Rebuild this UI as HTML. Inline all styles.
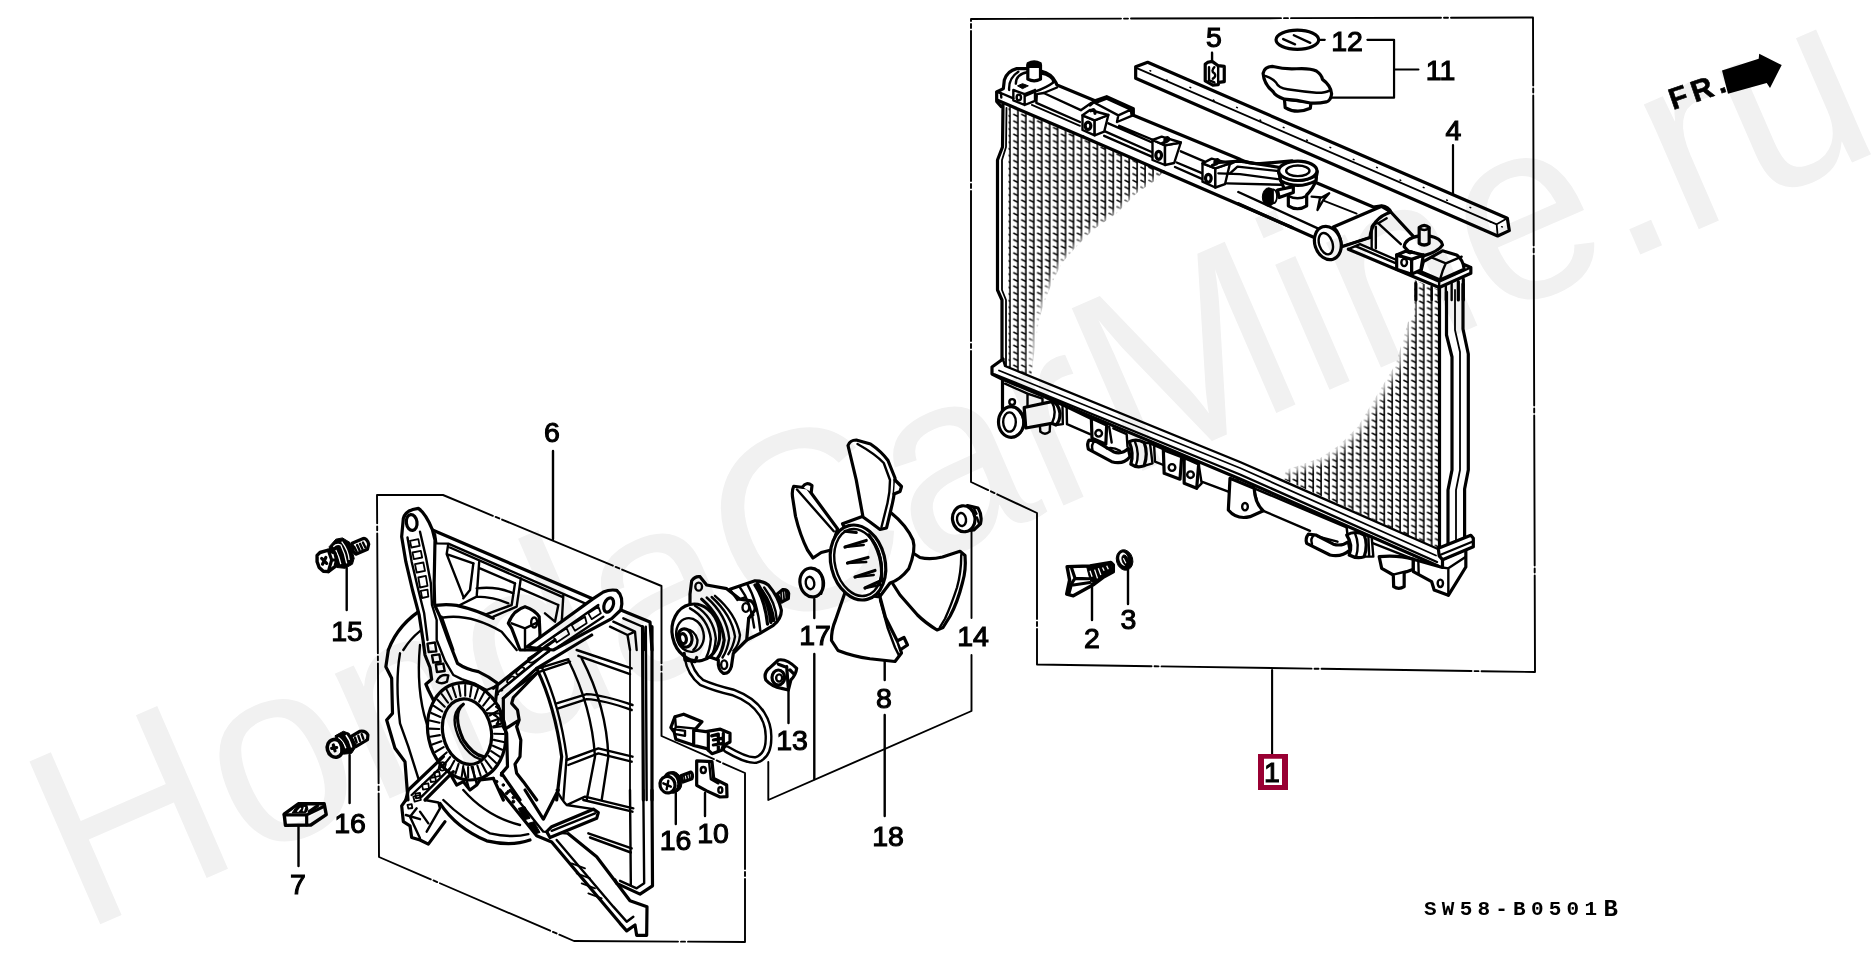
<!DOCTYPE html>
<html><head><meta charset="utf-8"><title>Radiator diagram</title>
<style>
html,body{margin:0;padding:0;background:#fff;overflow:hidden}
svg{display:block}
.l{fill:none;stroke:#000;stroke-width:2.4;stroke-linecap:round;stroke-linejoin:round}
.t{fill:none;stroke:#000;stroke-width:1.8;stroke-linecap:round;stroke-linejoin:round}
.k{fill:none;stroke:#000;stroke-width:3.2;stroke-linecap:round;stroke-linejoin:round}
.w{fill:#fff;stroke:#000;stroke-width:2.4;stroke-linecap:round;stroke-linejoin:round}
.wk{fill:#fff;stroke:#000;stroke-width:3.2;stroke-linecap:round;stroke-linejoin:round}
.wt{fill:#fff;stroke:#000;stroke-width:1.8;stroke-linecap:round;stroke-linejoin:round}
.b{fill:#000;stroke:#000;stroke-width:1;stroke-linejoin:round}
.n{font-family:"Liberation Sans",Arial,sans-serif;font-size:28.5px;fill:#000;text-anchor:middle;stroke:#000;stroke-width:1.1}
g *{vector-effect:non-scaling-stroke}
</style></head><body>
<svg width="1872" height="959" viewBox="0 0 1872 959">
<rect width="1872" height="959" fill="#fff"/>
<!-- 10_frames.svg -->
<g class="t" style="stroke-width:1.9">
<path d="M971 19L1533 17.5L1535 672L1037 664.5L1037 513L971 482Z" stroke-dasharray="150 3 4 3"/>
<path d="M377 495L443 495L661.5 586L661.5 736L745 773L745 942L574 941L379 857Z" stroke-dasharray="120 3 4 3"/>
<path d="M768.3 762L768.3 800L971.5 711L971.5 655"/>
<path d="M971.5 531L971.5 618"/>
<path d="M1272.1 670L1272.1 754" stroke-width="2.1"/>
</g>
<rect x="1258" y="754" width="30" height="36" fill="#990033"/><rect x="1264" y="758.75" width="18" height="26.25" fill="#fff"/>

<!-- 20_bar4.svg -->
<g transform="translate(950,0) scale(0.333333)">
<path class="wk" d="M557,200 L593,187 L1672,655 L1678,692 L1643,708 L557,235 Z"/>
<path class="t" d="M557,203 L1640,673 L1672,655 M1640,673 L1643,708"/>
<path d="M600,212l2,1M650,240l2,1M720,262l2,1M790,300l2,1M860,322l2,1M930,360l2,1M1000,382l2,1M1070,420l2,1M1140,442l2,1M1210,478l2,1M1280,502l2,1M1350,540l2,1M1420,562l2,1M1490,600l2,1M1560,622l2,1M1620,665l2,1M1655,680l2,1" stroke="#000" stroke-width="1.5" stroke-linecap="round"/>
</g>

<!-- 25_hatch.svg -->
<defs>
<pattern id="h1" patternUnits="userSpaceOnUse" x="1002.9" y="100" width="7.95" height="6.6">
<path d="M7.05,-1V8" stroke="#000" stroke-width="1.6" fill="none"/><path d="M2.4,1L7,3.3" stroke="#000" stroke-width="1.5" fill="none"/>
</pattern>
<pattern id="h2" patternUnits="userSpaceOnUse" x="1266.65" y="102" width="7.9" height="6.6">
<path d="M7.05,-1V8" stroke="#000" stroke-width="1.6" fill="none"/><path d="M2.4,1L7,3.3" stroke="#000" stroke-width="1.5" fill="none"/>
</pattern>
<filter id="bl" x="-20%" y="-20%" width="140%" height="140%"><feGaussianBlur stdDeviation="3.5"/></filter>
</defs>
<path fill="url(#h1)" d="M1008.5,106 L1163,172 L1156,180 L1137,193 L1117,213 L1093,230 L1076,247 L1062,263 L1052,283 L1044,303 L1039,320 L1035,347 L1033,362 L1031,377 L1008.5,368 Z"/>
<path fill="url(#h2)" d="M1414.5,280 L1439,290 L1439,549 L1283,479 L1286,470 L1320.7,457.7 L1339.5,445 L1358,426.4 L1377,395 L1395.8,363.8 L1405,332.6 L1408,322 L1414.5,318 Z"/>
<g filter="url(#bl)" fill="none" stroke="#fff" stroke-width="9" stroke-linejoin="round">
<path d="M1168,176 L1156,184 L1137,197 L1117,217 L1093,234 L1076,251 L1062,267 L1052,287 L1044,307 L1039,324 L1035,351 L1033,366"/>
<path d="M1410,300 L1405,332.6 L1395.8,363.8 L1377,395 L1358,426.4 L1339.5,445 L1320.7,457.7 L1286,470 L1276,474"/>
</g>
<!-- side tank lines -->
<g>
<path class="k" d="M1439.5,288 L1439.5,549"/>
<path class="k" d="M1446.5,292 L1446.5,335 L1452,357 L1452,470 L1448,490 L1448,552"/>
<path class="t" d="M1455,290 L1455,330 L1460,352 L1460,470 L1456,490 L1456,548"/>
<path class="k" d="M1463,284 L1463,329 L1468.3,354 L1468.3,470 L1464.6,489 L1464.6,538"/>
<path class="k" d="M1003,104 L1002.5,147 L997.5,160 L997.5,290 L1002,300 L1002,360"/>
<path class="t" d="M1006.5,108 L1006,147 L1002,160 L1002,290 L1006,300 L1006,366"/>
</g>

<!-- 30_rad_T1.svg -->
<g transform="translate(980,40) scale(0.166667)">
<!-- left end cap outline -->
<path class="k" d="M128,400 L100,368 L100,312 L140,292 L146,240 Q165,185 220,172 L285,172"/>
<path class="k" d="M365,186 Q430,200 455,255 L462,270 L690,364"/>
<!-- peg -->
<path class="wk" d="M287,150 L287,235 Q325,255 363,235 L363,150 Z"/>
<path class="b" d="M287,160 L287,140 Q325,118 363,140 L363,160 Z" style="stroke-width:2.6"/>
<!-- boss top -->
<path class="l" d="M215,262 Q215,205 287,192 M363,200 Q440,215 440,255 Q400,285 330,310 L270,335"/>
<path class="l" d="M175,300 Q170,230 230,190"/>
<path class="b" d="M225,275 L255,262 L290,275 L255,292 Z"/>
<!-- small square boss -->
<path class="l" d="M200,300 L200,362 L268,390 L268,325 Z M268,325 L330,300 M268,390 L330,365 L330,300"/>
<ellipse class="l" cx="233" cy="345" rx="13" ry="17"/>
<!-- flange -->
<path class="l" d="M125,318 L200,350 M100,312 L125,318 L128,345"/>
<path class="k" d="M105,362 L617,580"/>
<!-- section 1 -->
<path class="l" d="M462,285 L382,318 L605,421 L667,378"/>
<path class="l" d="M341,325 L338,377 L600,492 M341,325 L382,318"/>
<path class="t" d="M311,389 L600,515"/>
<!-- raised block -->
<path class="k" d="M660,390 L690,364 L760,340 L920,412 L920,452"/>
<path class="l" d="M690,378 L760,352 L905,418 L830,452 Z M830,452 L822,492 M905,418 L910,455 L822,492"/>
<!-- back edge continues -->
<path class="k" d="M920,452 L1560,716 Q1610,742 1680,742 L1872,725"/>
<!-- bracket 1 -->
<path class="w" d="M615,452 L615,540 L688,572 L688,482 Z"/>
<path class="w" d="M688,482 L770,450 L745,550 L688,572 Z"/>
<path class="w" d="M615,452 L660,420 L770,450 L688,482 Z"/>
<ellipse class="k" cx="648" cy="515" rx="17" ry="22"/>
<path class="k" d="M665,425 Q690,405 690,440"/>
<!-- section 2 -->
<path class="l" d="M770,500 L1040,618 M835,515 L1040,600 M750,548 L1030,672 M745,575 L1030,700"/>
<path class="k" d="M617,580 L1100,790"/>
<!-- bracket 2 -->
<path class="w" d="M1035,600 L1035,720 L1110,750 L1110,632 Z"/>
<path class="w" d="M1110,632 L1205,615 L1165,738 L1110,750 Z"/>
<path class="w" d="M1035,600 L1090,580 L1205,615 L1110,632 Z"/>
<ellipse class="k" cx="1072" cy="692" rx="17" ry="24"/>
<path class="k" d="M1095,620 Q1150,600 1125,585 Q1105,590 1110,610"/>
<!-- section 3 -->
<path class="l" d="M1205,668 L1345,728 M1180,735 L1335,800 M1170,762 L1335,835"/>
<path class="k" d="M1100,790 L1872,1125"/>
<!-- bracket 3 -->
<path class="w" d="M1335,740 L1335,850 L1412,885 L1412,770 Z"/>
<path class="w" d="M1412,770 L1500,740 L1470,865 L1412,885 Z"/>
<path class="w" d="M1335,740 L1390,712 L1500,740 L1412,770 Z"/>
<ellipse class="k" cx="1370" cy="830" rx="17" ry="24"/>
<path class="k" d="M1395,752 Q1450,735 1425,718 Q1405,722 1410,745"/>
<!-- neck taper -->
<path class="l" d="M1500,745 L1560,716 M1500,800 L1545,760 L1872,795 M1480,860 L1872,870"/>
</g>

<!-- 31_rad_T2.svg -->
<g transform="translate(1240,140) scale(0.166667)">
<!-- taper to filler neck -->
<path class="k" d="M-130,135 L0,127 L240,165"/>
<path class="l" d="M-130,200 L0,205 L250,238"/>
<!-- flange front lines -->
<path class="l" d="M-10,312 L470,532"/>
<path class="k" d="M-10,382 L445,585"/>
<!-- neck -->
<path class="wk" d="M232,190 L245,245 Q260,290 290,330 L290,395 Q345,430 400,395 L400,330 Q440,290 455,245 L462,190 Z"/>
<path class="l" d="M290,335 Q345,365 400,335"/>
<path class="wk" d="M245,245 Q345,300 455,245 L462,190 L232,190 Z"/>
<ellipse class="wk" cx="347" cy="185" rx="115" ry="58"/>
<ellipse class="l" cx="347" cy="185" rx="70" ry="32"/>
<path class="l" d="M245,215 Q345,275 455,215"/>
<!-- nipple -->
<path class="wk" d="M225,300 L320,280 L320,315 L235,345 Z"/>
<ellipse class="b" cx="172" cy="342" rx="38" ry="55"/>
<ellipse class="wt" cx="200" cy="338" rx="22" ry="42"/>
<path class="b" d="M172,290 L200,296 L200,380 L172,396Z"/>
<!-- arrow mark -->
<path class="l" d="M430,340 L490,345 L535,320 L500,360 L465,420 L480,350"/>
<!-- back edge -->
<path class="k" d="M462,258 L800,402 L850,395 Q890,400 905,432 L1040,578"/>
<path class="t" d="M505,365 L700,442"/>
<!-- inlet pipe -->
<path class="wk" d="M850,398 L560,522 Q600,560 610,640 L780,585 Q790,470 905,432 Z"/>
<path class="l" d="M610,640 L780,585"/>
<ellipse class="wk" cx="527" cy="618" rx="78" ry="102" transform="rotate(-18 527 618)"/>
<ellipse class="l" cx="515" cy="622" rx="40" ry="66" transform="rotate(-18 515 622)"/>
<!-- gusset -->
<path class="l" d="M790,650 L790,520 Q800,495 830,500 L965,625 M815,650 L815,520 M830,500 L880,470"/>
<!-- right flange -->
<path class="k" d="M650,655 L1195,885 L1385,800 L1385,765 L1340,745"/>
<path class="l" d="M650,655 L720,625 L940,720 M1195,885 L1195,850 L1385,765 M1195,850 L700,640"/>
<!-- end dome -->
<path class="wk" d="M1085,790 L1100,730 L1215,665 L1300,690 Q1340,720 1345,775 L1200,840 Z"/>
<path class="l" d="M1150,705 L1235,740 Q1215,780 1200,838 M1235,740 L1330,700"/>
<!-- boss -->
<path class="wk" d="M985,640 Q990,590 1075,575 L1135,575 Q1210,590 1215,630 Q1190,670 1100,695 L1040,700 Z"/>
<path class="wk" d="M1075,525 L1075,620 Q1105,640 1135,620 L1135,525 Q1105,500 1075,525 Z"/>
<path class="l" d="M1075,530 Q1105,550 1135,530"/>
<!-- square boss -->
<path class="wk" d="M940,690 L940,775 L1030,805 L1030,715 Z"/>
<path class="wk" d="M1030,715 L1100,690 L1085,780 L1030,805 Z"/>
<path class="wk" d="M940,690 L1000,665 L1100,690 L1030,715 Z"/>
<ellipse class="l" cx="985" cy="735" rx="17" ry="22"/>
<path class="b" d="M990,672 L1020,662 L1050,672 L1020,684Z"/>
<!-- right tubes below -->
<path class="k" d="M1055,862 L1055,960 M1195,890 L1195,960 M1310,850 L1310,960 M1340,835 L1340,960"/>
<path class="l" d="M1150,880 L1150,960 M1235,875 L1235,960 M1270,860 L1270,960"/>
</g>

<!-- 32_rad_bottom.svg -->
<!-- bottom flange (source coords) -->
<g>
<path class="k" d="M1003,359 L992,367 L992,374 L1002,379 L1240,479 L1438,566"/>
<path class="l" d="M1003,359 L1005,366 L1240,462 L1438,549"/>
<path class="t" d="M999,370.5 L1240,468 L1436,555.5"/>
<path class="l" d="M995,374.5 L1240,474.5 L1437,562"/>
</g>
<g transform="translate(980,340) scale(0.166667)">
<!-- left end plate -->
<path class="k" d="M135,235 L135,430"/>
<path class="l" d="M150,262 L285,322 L285,400 M285,322 L375,352 L375,385"/>
<circle class="l" cx="193" cy="372" r="17"/>
<!-- outlet pipe -->
<path class="wk" d="M265,405 L430,370 Q470,375 480,440 Q480,490 455,510 L430,500 L275,528 Z"/>
<path class="l" d="M430,370 Q465,430 432,500"/>
<ellipse class="wk" cx="187" cy="492" rx="76" ry="92"/>
<ellipse class="l" cx="177" cy="492" rx="38" ry="58"/>
<path class="l" d="M215,408 Q260,440 262,500 Q258,550 225,572"/>
<path class="l" d="M360,522 L362,550 Q390,575 418,550 L420,515"/>
<!-- tank face -->
<path class="l" d="M495,395 L497,505 M520,405 L522,505 L660,565 M455,510 L497,505"/>
<path class="k" d="M400,345 L500,390 L665,470"/>
<!-- bracket A -->
<path class="wk" d="M668,468 L672,590 L755,625 L760,510 Z"/>
<circle class="l" cx="712" cy="560" r="20"/>
<path class="l" d="M775,520 L790,615 M800,530 L880,565 L885,640"/>
<!-- oil pipe elbow -->
<path class="wk" d="M655,600 Q640,620 650,655 L790,730 Q860,750 900,700 L890,650 Q850,690 800,670 L700,610 Z"/>
<path class="l" d="M690,605 Q665,625 675,660 M760,650 Q800,640 840,665"/>
<path class="wk" d="M895,610 Q940,590 985,615 Q1010,680 985,755 Q940,770 905,745 Q925,680 895,610Z"/>
<path class="l" d="M930,610 Q960,680 935,755 M985,615 L1020,620 L1035,740 L985,755"/>
<!-- tank after -->
<path class="l" d="M1045,640 L1050,730 L1100,750 M1020,620 L1100,655"/>
<!-- bracket B -->
<path class="wk" d="M1100,658 L1105,800 L1200,835 L1210,700 Z"/>
<circle class="l" cx="1152" cy="765" r="20"/>
<path class="wk" d="M1225,705 L1225,860 L1300,890 L1312,745 Z"/>
<circle class="l" cx="1263" cy="808" r="20"/>
<path class="l" d="M1312,745 L1330,860 L1300,890 M1330,850 L1530,925 L1545,840 M1640,880 L1660,960"/>
</g>

<!-- 33_rad_T4.svg -->
<g transform="translate(1240,440) scale(0.166667)">
<!-- bracket C (left) -->
<path class="wk" d="M-60,230 L-70,420 Q-20,480 60,460 L140,425 Q90,380 85,290 Z"/>
<ellipse class="l" cx="30" cy="400" rx="17" ry="22"/>
<!-- tank body -->
<path class="l" d="M85,290 L640,525 M140,425 L420,545"/>
<!-- oil pipe 2 -->
<path class="wk" d="M410,565 Q390,590 400,620 L540,690 Q610,705 660,660 L650,610 Q610,640 560,625 L455,570 Z"/>
<path class="l" d="M445,570 Q420,590 432,625 M470,580 L585,610"/>
<path class="wk" d="M640,570 Q690,540 745,570 Q770,630 745,700 Q700,715 655,690 Q680,630 640,570Z"/>
<path class="l" d="M690,560 Q720,630 695,705 M745,570 L790,580 L800,700 L745,700 M770,575 L775,700"/>
<path class="l" d="M640,525 L645,570"/>
<!-- drain -->
<path class="l" d="M800,620 L1040,715"/>
<path class="wk" d="M835,700 L850,770 L920,810 L1000,790 L1040,775 L1040,715 Q950,690 835,700Z"/>
<path class="wk" d="M920,815 L922,880 Q952,900 985,880 L985,800"/>
<!-- end bracket -->
<path class="wk" d="M1040,715 L1040,790 L1150,850 L1165,900 L1250,932 L1355,762 L1355,655 L1215,715 L1215,765 Z"/>
<path class="l" d="M1070,725 L1072,800 M1250,932 L1250,770 L1215,765 M1250,770 L1355,700"/>
<ellipse class="l" cx="1202" cy="860" rx="16" ry="22"/>
<!-- end plate of flange -->
<path class="wk" d="M1190,650 L1385,572 L1400,590 L1400,640 L1215,718 L1195,695 Z"/>
<path class="l" d="M1200,690 L1390,612"/>
</g>

<!-- 34_cap.svg -->
<g transform="translate(1190,20) scale(0.15228)">
<ellipse class="k" cx="705" cy="130" rx="140" ry="63"/>
<path class="l" d="M612,125L690,160M682,100L790,150"/>
<path class="t" d="M848,130L885,130 M1165,130L1340,130L1340,510L930,510 M1340,325L1500,325" style="stroke-width:2.2"/>
<!-- cap -->
<path class="wk" d="M620,520 L625,575 Q700,620 790,580 L795,540 Z"/>
<path class="wk" d="M480,350 Q490,305 545,305 Q620,325 700,320 Q790,315 830,335 Q865,360 870,390 Q925,430 930,485 Q925,530 895,538 Q840,550 790,545 Q700,525 620,520 Q560,500 545,470 Q485,420 480,350 Z"/>
<path class="l" d="M498,368 Q545,385 565,410 Q580,445 640,455 Q740,470 830,478 Q885,480 918,462"/>
<!-- clip 5 -->
<path class="t" d="M145,215L145,275" style="stroke-width:2.2"/>
<path class="wk" d="M100,290 Q120,270 150,275 L185,300 L225,305 L225,405 L190,410 L185,425 L150,428 L100,400 Z"/>
<path class="l" d="M185,300 L185,410 M125,310 L125,395 L160,410 M160,310 Q135,335 160,350 Q175,370 150,385"/>
</g>
<path class="t" d="M1453,145L1453,194 M1212,52.5L1212,62" style="stroke-width:2.2"/>

<!-- 35_p23.svg -->
<g transform="translate(1040,530) scale(0.083333)">
<path class="wk" style="stroke-width:3.4" d="M325,440 L600,432 L850,388 L880,420 L880,500 L770,560 L650,650 L400,790 L320,770 L355,600 Z"/>
<path class="b" d="M560,440 L850,395 L875,500 L765,555 L650,645 L600,600 Z"/>
<path d="M545,500L575,560M600,490L625,560M655,475L690,580M700,460L730,540M750,450L770,490M800,430L820,470" stroke="#fff" stroke-width="1.3" fill="none"/>
<path class="k" d="M380,460 L420,580 L590,585 M420,580 L380,640 L350,750 M400,660 L600,630"/>
<ellipse class="b" cx="1015" cy="360" rx="98" ry="125" transform="rotate(-15 1015 360)"/>
<ellipse cx="1005" cy="350" rx="52" ry="80" transform="rotate(-15 1005 350)" fill="#fff"/>
<ellipse class="b" cx="1025" cy="365" rx="38" ry="68" transform="rotate(-20 1025 365)"/>
<path d="M1000,340L1030,400" stroke="#fff" stroke-width="1.2"/>
</g>
<path class="t" style="stroke-width:2.4" d="M1092,584L1092,620 M1128,570L1128,604"/>

<!-- 40_shroud.svg -->
<g transform="translate(370,490) scale(0.166667)">
<!-- ===== S1: top ===== -->
<!-- top edge -->
<path class="k" d="M375,240 L1335,652"/>
<path class="l" d="M390,265 L398,320 L470,322 L1290,680 M470,322 L460,385 L560,640 M460,385 L620,440 M480,345 L1150,640"/>
<path class="l" d="M620,440 L600,600 L560,650 M655,432 L640,640 L540,690 M660,470 L870,560 M640,590 Q760,575 860,620 M640,640 Q740,640 830,680"/>
<path class="l" d="M870,560 L850,690 L700,745 M905,530 L880,700 L740,760 M900,590 L1130,690 M1130,690 L1110,790 L1050,740 M1160,630 L1150,800"/>
<!-- left tab -->
<!-- left arm upper -->
<!-- outer ring top arcs -->
<path class="k" d="M110,960 Q170,800 330,705 Q420,680 520,692 Q640,720 740,770"/>
<path class="l" d="M200,960 Q280,830 440,765 Q600,740 790,850 L880,960"/>
<path class="l" d="M430,760 L500,960"/>
<!-- left arm (in front) -->
<path class="wk" d="M190,280 L200,170 Q215,118 290,110 Q335,140 375,240 L390,300 L385,560 L388,690 L420,760 L470,900 L525,1040 Q575,1075 650,1090 Q715,1120 765,1160 L750,1300 L400,1300 L350,1200 L335,1165 L370,1135 L360,1065 L330,990 L318,900 L295,750 L255,600 L215,430 Z"/>
<ellipse class="k" cx="250" cy="195" rx="32" ry="48" transform="rotate(-8 250 195)"/>
<path class="l" d="M225,285 L250,430 L290,600 L325,740 L345,900"/>
<path class="l" d="M300,250 L335,400 L365,560 L372,690 L400,780 L400,900 L450,1025 L500,1110 L550,1135 L625,1160 L700,1200 L750,1180"/>
<path class="t" d="M240,305L290,295L298,335L248,345Z M255,375L305,365L313,405L263,415Z M270,445L320,435L330,485L280,495Z M290,525L335,515L345,575L300,585Z M305,605L345,598L350,640L312,648Z"/>
<!-- motor mount bump -->
<path class="wk" d="M830,800 Q860,720 930,700 Q990,720 1015,760 L1020,870 L1010,960 L900,960 L850,830 Z"/>
<path class="l" d="M850,800 L930,830 L1015,790 M930,830 L930,960"/>
<ellipse class="l" cx="985" cy="795" rx="18" ry="30"/>
<!-- right tab -->
<path class="wk" d="M1335,655 L1400,612 Q1440,595 1480,602 Q1525,640 1505,720 L1450,772 L1100,960 L940,942 Z"/>
<ellipse class="k" cx="1432" cy="690" rx="27" ry="45" transform="rotate(20 1432 690)"/>
<path class="l" d="M1370,690 L1000,950 M1400,760 L1130,940"/>
<path class="t" d="M1310,740L1370,700L1385,740L1330,775Z M1210,810L1290,760L1300,800L1230,845Z M1100,880L1180,830L1195,865L1120,915Z"/>
<!-- right frame top -->
<path class="k" d="M1505,720 L1680,792 L1692,960"/>
<path class="l" d="M1520,770 L1640,822 L1650,960 M1460,790 L1590,850 L1545,870 L1440,820 M1590,850 L1600,960 M1545,870 L1560,960"/>
<!-- ===== S2: middle (y+900) ===== -->
<g transform="translate(0,900)">
<!-- outer ring left -->
<path class="k" d="M110,60 L95,160 L130,230 L135,440 L100,480 L150,650 L210,730 L228,960"/>
<path class="l" d="M180,80 Q150,250 180,500 L230,640 L290,830"/>
<path class="l" d="M300,30 Q275,300 340,500 L400,690"/>
<!-- left arm lower part -->
<path class="l" d="M345,22L390,15L398,68L352,72Z M372,92L416,86L424,130L380,136Z M395,148L440,142L448,186L402,192Z M400,250 Q420,200 470,212 L462,250 Q430,268 400,250Z"/>
<!-- hub -->
<ellipse class="wk" cx="580" cy="548" rx="232" ry="294" transform="rotate(-12 580 548)"/>
<ellipse class="k" cx="582" cy="550" rx="145" ry="198" transform="rotate(-12 582 550)"/>
<path class="k" d="M560,385 Q490,440 560,600 Q620,690 680,700"/>
<path class="l" d="M545,395 Q470,460 545,610 Q600,700 660,715"/>
<g class="l" transform="rotate(-12 580 548)" style="stroke-width:2.1">
<path d="M742,559L800,562M738,596L794,610M729,632L783,657M716,665L765,700M699,695L741,738M678,720L713,771M654,740L680,797M628,754L645,816M600,762L607,826M572,764L569,828M544,759L531,821M517,747L495,806M492,729L461,783M470,706L430,753M451,678L405,717M436,647L384,676M425,612L370,630M419,575L362,583M418,537L360,534M422,500L366,486M431,464L377,439M444,431L395,396M461,401L419,358M482,376L447,325M506,356L480,299M532,342L515,280M560,334L553,270M588,332L591,268M616,337L629,275M643,349L665,290M668,367L699,313M690,390L730,343M709,418L755,379M724,449L776,420M735,484L790,466M741,521L798,513"/>
</g>
<!-- upper-right arm -->
<path class="k" d="M740,290 L1060,35 L1110,0"/>
<path class="k" d="M800,350 L1000,170 L1330,-30"/>
<path class="l" d="M760,320 L1080,60 M820,330 L1010,190"/>
<path class="t" d="M950,110 Q940,140 975,135 L1075,70 Q1085,40 1055,45 Z M880,190 Q870,210 895,205 L925,180 Q930,160 905,165Z M825,240 Q815,260 840,255 L865,232 Q870,215 848,220Z"/>
<circle class="b" cx="765" cy="325" r="7"/><circle class="b" cx="790" cy="300" r="7"/><circle class="b" cx="735" cy="350" r="7"/>
<path class="b" d="M750,400 L775,390 L770,415Z"/>
<!-- wavy outline right of hub -->
<path class="k" d="M800,350 L800,520 L820,560 L825,760 L790,800"/>
<path class="k" d="M1000,200 L860,345 L850,380 L885,420 L895,480 L810,535 M895,480 L880,520 L905,600 L900,700 L870,745 L880,800 L920,850 L1000,960"/>
<path class="l" d="M700,440 L780,440 L790,500 L740,520 M745,450 Q790,470 760,505"/>
<!-- duct arcs -->
<path class="k" d="M1000,170 Q1110,400 1150,700 L1120,960"/>
<path class="l" d="M1030,160 Q1140,400 1180,700 L1160,960"/>
<path class="l" d="M1190,120 Q1330,400 1350,700 L1300,960 M1270,110 Q1420,400 1430,700 L1390,960"/>
<path class="l" d="M1010,170 L1190,115 M1020,190 L1200,130 M1240,60 L1570,170 M1250,95 L1560,205 M1120,380 L1300,325 Q1400,330 1575,390 M1130,410 L1300,355 Q1400,360 1570,420 M1180,720 L1370,650 L1575,700 M1190,750 L1370,680 L1570,730"/>
<!-- right frame verticals -->
<path class="t" d="M1560,60 L1560,960"/>
<path class="k" d="M1635,-80 L1640,960 M1692,-80 L1692,960"/>
<path class="l" d="M1655,-80 L1660,960"/>
<!-- lower-left arm -->
<path class="k" d="M440,700 L230,900 L215,960"/>
<path class="k" d="M500,790 L330,960"/>
<path class="l" d="M455,735 L250,930 M480,770 L310,940"/>
<path class="t" d="M418,740 Q440,725 455,745 L445,780 Q425,790 412,770Z M385,795L415,790L420,815L392,822Z M360,828L392,822L396,848L365,852Z M312,868L350,860L354,892L318,898Z M272,922L300,918L304,945L276,950Z"/>
<!-- bottom of hub: lower-right arm start -->
<path class="k" d="M480,800 L520,870 L560,850 L600,900 L640,870 L660,840 L740,830"/>
<path class="l" d="M560,770 L590,880 M610,760 L640,860"/>
<path class="k" d="M740,830 L800,960 M790,800 L900,960"/>
<circle class="b" cx="790" cy="810" r="9"/><circle class="b" cx="760" cy="850" r="8"/><circle class="b" cx="800" cy="870" r="8"/><circle class="b" cx="830" cy="910" r="8"/><circle class="b" cx="860" cy="945" r="8"/>
</g>
<!-- ===== S3: bottom (y+1800) ===== -->
<g transform="translate(0,1800)">
<!-- lower-left foot -->
<path class="k" d="M215,60 L190,95 L200,190 L240,215 L250,285 L300,300 L350,325 L450,190"/>
<path class="l" d="M330,60 L410,75 L420,110 L340,250 M280,110 L240,160 L300,290 M300,130 L350,200 M215,150 L300,175"/>
<path class="t" d="M260,40L300,30L305,60L268,70Z M225,90L250,85L254,108L230,112Z"/>
<!-- outer ring bottom arcs -->
<path class="k" d="M420,80 Q520,230 700,305 Q850,340 960,300"/>
<path class="l" d="M440,60 Q560,180 720,260 Q850,290 950,265"/>
<path class="l" d="M560,0 Q700,160 900,210"/>
<!-- lower-right arm -->
<path class="k" d="M780,0 L1000,275 L1090,312 L1500,800 L1540,845 L1590,810 L1600,872 L1660,872 L1662,700 L1560,665 L1360,400 L1190,262"/>
<path class="l" d="M840,0 L1040,250 L1190,262 M1120,300 L1460,700 L1540,790 L1580,760"/>
<path class="t" d="M1210,440L1290,470 M1240,500L1320,530 M1270,560L1350,590 M1310,620L1390,650"/>
<circle class="b" cx="820" cy="20" r="8"/><circle class="b" cx="860" cy="70" r="9"/>
<path class="b" d="M890,110L930,100L960,170L920,180Z M950,200L985,190L1020,255L985,265Z"/>
<!-- V + paddle -->
<path class="k" d="M930,0 L1040,175 L1130,0"/>
<path class="wk" d="M1060,250 L1090,220 L1340,115 L1370,135 L1360,170 L1080,285 Z"/>
<path class="l" d="M1090,245 L1350,140"/>
<path class="l" d="M1120,0 Q1150,60 1180,90 L1340,115 M1180,90 L1290,40 L1580,110 M1280,60 L1575,130"/>
<path class="l" d="M1310,260 L1570,350 M1320,285 L1565,375"/>
<!-- frame bottom -->
<path class="k" d="M1692,0 L1695,575 L1620,625 L1480,560 L1470,540"/>
<path class="l" d="M1640,0 L1645,560 L1600,590 L1500,545 M1560,0 L1565,570"/>
</g>
</g>

<!-- 50_fan.svg -->
<g transform="translate(770,430) scale(0.25)">
<!-- blade 2 (left) -->
<path class="wk" d="M270,395 L150,232 L95,225 Q85,245 92,280 L102,345 Q120,420 150,480 L172,512 L205,490 L245,480 Z"/>
<path class="l" d="M108,238 L255,405"/>
<path class="wk" d="M130,228 Q145,205 168,222 L165,248"/>
<!-- blade 3 (right) -->
<path class="wk" d="M550,478 L600,510 Q640,520 690,508 L760,485 L780,502 Q785,560 770,610 Q750,690 720,745 L692,790 L668,800 Q620,770 590,740 L520,660 L488,610 Z"/>
<path class="l" d="M765,500 Q765,570 748,630 Q725,700 700,755 L680,788"/>
<!-- blade 4 (bottom) -->
<path class="wk" d="M300,650 L262,760 Q245,800 246,842 L272,882 Q330,905 400,915 L500,926 L526,892 L512,850 L462,750 L440,668 Z"/>
<path class="l" d="M440,680 L470,790 L500,870 L516,902"/>
<path class="wk" d="M512,842 L536,830 L550,860 L526,876"/>
<!-- hub back body -->
<path class="wk" d="M290,375 L380,342 Q440,325 485,332 Q545,380 572,440 Q585,480 555,555 Q520,600 480,612 L440,665 Z"/>
<!-- blade 1 (top) -->
<path class="wk" d="M372,348 L345,200 L312,62 Q320,40 345,40 L402,56 Q445,85 472,122 L500,192 Q500,250 490,292 L466,392 L440,398 L400,368 Z"/>
<path class="l" d="M350,56 Q420,95 455,132 L480,200 Q480,250 470,292 L446,388"/>
<path class="wk" d="M500,200 L526,226 L520,246 L496,256"/>
<!-- hub front ring -->
<ellipse class="wk" cx="352" cy="530" rx="108" ry="152" transform="rotate(-14 352 530)"/>
<ellipse class="l" cx="352" cy="530" rx="92" ry="136" transform="rotate(-14 352 530)"/>
<path class="k" d="M395,420 Q455,500 445,600"/>
<path class="l" d="M410,440 Q460,510 440,615"/>
<path class="k" d="M300,468 L385,442 M310,532 L392,510 M340,588 L420,562 M380,632 L450,600"/>
<path class="l" d="M300,468 L375,460 M310,532 L385,528 M340,588 L415,580 M380,632 L440,620"/>
<path class="k" d="M300,405 L345,410"/>
<!-- washer 17 -->
<ellipse class="wk" cx="167" cy="610" rx="47" ry="58" transform="rotate(-10 167 610)"/>
<ellipse class="l" cx="160" cy="612" rx="17" ry="25" transform="rotate(-10 160 612)"/>
<path class="l" d="M195,562 Q222,600 205,655"/>
<!-- grommet 14 -->
<path class="wk" d="M790,302 L832,312 Q850,340 842,375 L815,400 L780,405 Z"/>
<path class="l" d="M815,312 L826,335 M828,350 L835,372"/>
<ellipse class="wk" cx="775" cy="355" rx="45" ry="52" transform="rotate(-8 775 355)"/>
<ellipse class="l" cx="766" cy="358" rx="18" ry="26" transform="rotate(-8 766 358)"/>
</g>

<!-- 54_wire.svg -->
<path d="M687.5,657.5 Q690,673.3 701.7,682.5 Q715,688.3 733.3,692.5 Q753.3,700 762,714 Q769,725 768.5,738 Q768.8,756 756,760 Q746.7,761 726.7,749.2" fill="none" stroke="#000" stroke-width="8" stroke-linecap="round"/>
<path d="M687.5,657.5 Q690,673.3 701.7,682.5 Q715,688.3 733.3,692.5 Q753.3,700 762,714 Q769,725 768.5,738 Q768.8,756 756,760 Q746.7,761 726.7,749.2" fill="none" stroke="#fff" stroke-width="3.2" stroke-linecap="round"/>

<!-- 55_motor.svg -->
<g transform="translate(640,560) scale(0.166667)">
<!-- rear body -->
<path class="wk" d="M540,175 L690,125 Q740,125 770,150 Q830,220 848,300 Q850,350 800,392 L720,440 L640,480 Z"/>
<path class="k" d="M690,150 Q750,240 765,385 M705,140 Q770,240 785,375"/>
<path d="M725,180 Q790,270 800,372" fill="none" stroke="#000" stroke-width="4.5"/>
<path class="l" d="M745,165 Q815,260 820,355"/>
<!-- stud -->
<path class="wk" d="M822,205 L855,178 Q885,175 892,200 L890,232 L850,252 Z"/>
<path class="t" d="M845,190L850,240M860,182L865,238M875,182L878,232"/>
<!-- flange -->
<path class="wk" d="M300,205 L310,125 Q330,95 360,100 L400,150 L520,172 L600,235 L665,245 Q695,270 690,300 L652,350 L640,480 L560,560 L548,640 Q535,685 500,680 Q465,660 470,600 L300,540 Z"/>
<ellipse class="l" cx="352" cy="160" rx="20" ry="24"/>
<ellipse class="l" cx="635" cy="285" rx="20" ry="26"/>
<ellipse class="l" cx="505" cy="628" rx="18" ry="26"/>
<path class="l" d="M545,185 L585,240 L625,225 M650,350 L680,330"/>
<!-- body arcs -->
<path class="l" d="M450,215 Q575,320 600,450 Q595,510 560,545"/>
<path class="l" d="M400,225 Q520,330 535,470 Q525,540 495,585"/>
<path class="k" d="M370,235 Q490,340 505,480 Q495,550 465,590"/>
<path class="l" d="M430,222 Q550,330 570,460 Q560,520 530,565 M600,165 Q665,250 685,405 M645,148 Q705,250 722,425"/>
<!-- front face -->
<ellipse class="wk" cx="335" cy="435" rx="142" ry="172" transform="rotate(-12 335 435)"/>
<path class="l" d="M330,275 Q440,340 455,470 Q450,540 425,585"/>
<ellipse class="l" cx="300" cy="450" rx="82" ry="102" transform="rotate(-12 300 450)"/>
<path class="l" d="M300,290 Q410,350 425,475 Q420,540 398,582"/>
<ellipse class="k" cx="270" cy="468" rx="42" ry="55" transform="rotate(-12 270 468)"/>
<ellipse class="k" cx="258" cy="472" rx="20" ry="30" transform="rotate(-12 258 472)"/>
<path class="l" d="M275,415 Q330,420 345,480 Q345,520 320,540"/>
<!-- wire root -->
<path class="k" d="M265,560 L270,600 L330,610 L340,585"/>
<!-- clip 13 -->
<path class="wk" d="M830,600 Q880,590 940,650 Q935,690 905,720 L890,780 L850,770 Q790,760 755,720 Q740,680 775,650 Z"/>
<ellipse class="k" cx="830" cy="705" rx="38" ry="45"/>
<ellipse class="l" cx="835" cy="708" rx="18" ry="22"/>
<path class="k" d="M880,640 L890,770 M830,625 L870,640 M900,660 L920,680"/>
</g>

<!-- 56_conn.svg -->
<g transform="translate(640,700) scale(0.166667)">
<!-- connector left block -->
<path class="wk" d="M185,165 L210,100 L262,85 L372,130 L335,172 L322,272 L215,235 L205,192 Z"/>
<path class="l" d="M210,100 L215,160 L335,172 M215,160 L205,192 M200,175 L270,185 L270,215 L215,205 M330,180 L400,200"/>
<!-- connector right block -->
<path class="wk" d="M322,180 L395,190 L482,175 L540,200 L540,252 L500,272 L490,302 L432,322 L400,292 L322,272 Z"/>
<path class="k" d="M410,200 L410,300 M430,215 L470,205 L470,305 M440,240 L490,230 M440,270 L490,262 M500,200 L500,270"/>
<!-- bracket 10 -->
<path class="wk" d="M340,365 L432,370 L442,470 L520,510 L522,580 L480,582 L400,545 L340,512 Z"/>
<path class="l" d="M415,375 L425,475 L470,500"/>
<ellipse class="l" cx="380" cy="420" rx="15" ry="18"/>
<ellipse class="l" cx="482" cy="540" rx="12" ry="17"/>
<!-- bolt 16 -->
<path class="wk" d="M245,455 L305,432 Q320,445 312,472 L258,492 Z"/>
<path class="t" d="M262,450L270,485M278,444L286,480M294,438L300,474"/>
<ellipse class="b" cx="205" cy="490" rx="45" ry="62" transform="rotate(-15 205 490)"/>
<ellipse class="wk" cx="190" cy="495" rx="42" ry="58" transform="rotate(-15 190 495)"/>
<ellipse class="wk" cx="165" cy="508" rx="45" ry="50" transform="rotate(-15 165 508)"/>
<path class="l" d="M140,500 L185,520 M170,485 L160,535"/>
</g>

<!-- 60_small.svg -->
<!-- bolt 15 -->
<g transform="translate(270,510) scale(0.083333)">
<path class="wk" d="M985,400 L1120,342 Q1160,335 1185,410 L1170,470 L1030,530 L1000,500 Z"/>
<path class="l" d="M1010,440L1040,500M1045,420L1075,485M1080,405L1110,470M1115,390L1145,450"/>
<path class="b" d="M710,440 L790,350 L870,335 L960,390 L1010,580 L990,650 L900,700 L800,690 L740,600 Z"/>
<path d="M760,440 Q800,400 850,420 Q900,520 920,640 M790,480 Q830,560 850,650 M860,380 Q940,480 950,600" stroke="#fff" stroke-width="1.3" fill="none"/>
<path class="wk" style="stroke-width:3.4" d="M565,545 L600,510 L700,482 L780,520 L800,600 L780,680 L700,740 L640,735 L590,690 L565,620 Z"/>
<path class="k" d="M700,482 L740,600 L700,740 M740,600 L800,600 M620,580 L680,640 M670,570 L630,650"/>
</g>
<!-- bolt 16 left -->
<g transform="translate(260,720) scale(0.083333)">
<path class="wk" d="M1090,200 L1200,135 Q1270,125 1295,180 L1290,235 L1150,320 Z"/>
<path class="l" d="M1140,210L1160,270M1180,190L1200,250M1220,170L1240,225"/>
<path class="b" d="M900,190 L1000,135 L1070,160 L1120,250 L1140,340 L1100,400 L1000,410 L940,300 Z"/>
<path d="M940,210 Q1000,250 1030,340 M1030,180 Q1080,240 1100,330" stroke="#fff" stroke-width="1.4" fill="none"/>
<ellipse class="wk" style="stroke-width:3.6" cx="900" cy="340" rx="92" ry="108" transform="rotate(-15 900 340)"/>
<path class="k" d="M880,300 L900,370 M860,340 L920,330"/>
<path class="b" d="M930,250 Q990,300 1000,390 L960,420 Q990,330 930,250Z"/>
</g>
<!-- clip 7 -->
<g transform="translate(240,790) scale(0.083333)">
<path class="wk" style="stroke-width:3.4" d="M530,290 L700,165 L1010,165 L1035,295 L850,420 L545,425 Z"/>
<path class="k" d="M530,298 L800,298 L800,420 M800,298 L1010,195"/>
<path class="b" d="M625,275 L700,170 L800,172 L815,230 L790,272 Z"/>
<path d="M690,260L730,215M760,255L775,205" stroke="#fff" stroke-width="1.5" fill="none"/>
<path class="k" d="M830,260 L930,190"/>
</g>
<path class="t" style="stroke-width:2.4" d="M346.7,568L346.7,610 M349.6,755L349.6,803 M298.5,826L298.5,866"/>
<!-- FR arrow -->
<path d="M1722,70.5 L1758.7,58.8 L1759.2,53.8 L1781.7,65 L1770,88 L1766.7,83 L1728,93.8 Z" fill="#000"/>
<text transform="translate(1673,110) rotate(-19)" font-family="Liberation Sans,Arial,sans-serif" font-weight="bold" font-size="30" textLength="58" lengthAdjust="spacing" fill="#000" stroke="#000" stroke-width="0.6">FR.</text>

<!-- 90_labels.svg -->
<g class="n">
<text x="1214" y="47.4">5</text>
<text x="1347" y="50.5">12</text>
<text x="1440.5" y="80.1">11</text>
<text x="1453.4" y="139.5">4</text>
<text x="552" y="442">6</text>
<text x="347" y="641">15</text>
<text x="350" y="833">16</text>
<text x="298" y="894">7</text>
<text x="675.5" y="850">16</text>
<text x="713" y="843">10</text>
<text x="792" y="750">13</text>
<text x="815" y="645">17</text>
<text x="884" y="708">8</text>
<text x="888" y="845.8">18</text>
<text x="973" y="646">14</text>
<text x="1092" y="647.5">2</text>
<text x="1128.5" y="629">3</text>
<text x="1272" y="781.9">1</text>
</g>
<text x="1424" y="915.3" font-family="Liberation Mono,monospace" font-weight="bold" font-size="21" fill="#000" textLength="173" lengthAdjust="spacing">SW58-B0501</text>
<text x="1603.5" y="916.3" font-family="Liberation Mono,monospace" font-weight="bold" font-size="24" fill="#000">B</text>
<path class="t" style="stroke-width:2.4" d="M553,451L553,539"/>
<path class="t" style="stroke-width:2.4" d="M814.3,599L814.3,618 M814.3,654L814.3,779 M884.7,661L884.7,680 M884.7,715L884.7,816 M788.5,690L788.5,723 M705,793L705,816 M675.8,793L675.8,824"/>

<!-- 99_watermark.svg -->
<text transform="translate(81.5,932.4) rotate(-23.5)" font-family="Liberation Sans,Arial,sans-serif" font-size="258" fill="#f1f1f1" textLength="1968" lengthAdjust="spacingAndGlyphs" style="mix-blend-mode:multiply">HondaCarMine.ru</text>

</svg>
</body></html>
